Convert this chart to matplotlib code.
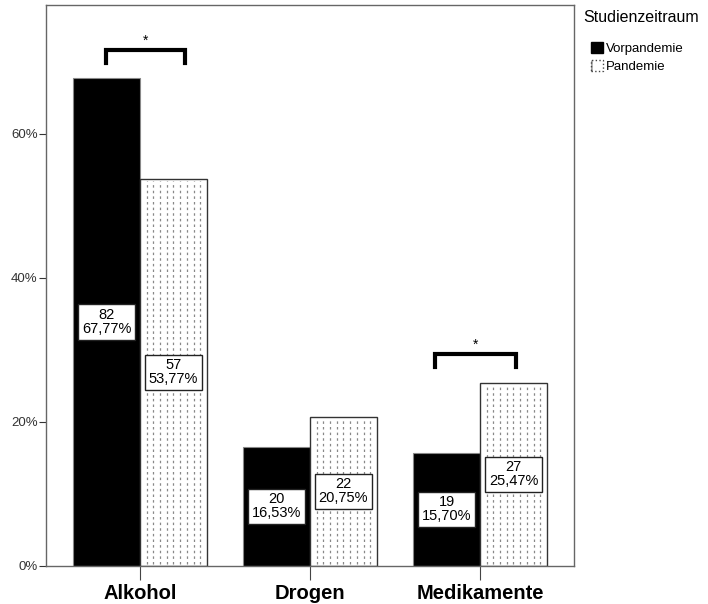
import numpy as np
import matplotlib
matplotlib.use('Agg')
import matplotlib.pyplot as plt
from matplotlib.patches import Patch

plt.rcParams['font.family'] = ['Liberation Sans', 'DejaVu Sans']

categories = ['Alkohol', 'Drogen', 'Medikamente']
groups = ['Vorpandemie', 'Pandemie']
counts_vor = [82, 20, 19]
pct_vor = [67.77, 16.53, 15.70]
counts_pan = [57, 22, 27]
pct_pan = [53.77, 20.75, 25.47]

# significance brackets: category index, left/right offset, bracket height (%)
sig_cat = [0, 2]
sig_left = [-0.20, -0.265]
sig_right = [0.265, 0.212]
sig_y = [71.6, 29.4]

fig = plt.figure(figsize=(7.08, 6.04), dpi=100)
ax = fig.add_axes([46 / 708, 38 / 604, (574 - 46) / 708, (566 - 5) / 604])

x = np.arange(len(categories))
w = 0.394
b1 = ax.bar(x - w / 2, pct_vor, w, color='black', edgecolor='#888888', lw=0.8, zorder=2)
b2 = ax.bar(x + w / 2, pct_pan, w, color='white', edgecolor='#333333', lw=1.0, zorder=2)

# dotted vertical fill pattern for Pandemie bars
for p in b2:
    x0, bw, h = p.get_x(), p.get_width(), p.get_height()
    xs = np.linspace(x0, x0 + bw, 11)[1:-1]
    ax.vlines(xs, 0.3, h - 0.3, colors='#888888', linestyles=(0, (2, 2.5)), lw=0.9, zorder=2.5)

def fmt(n, p):
    return f"{n}\n{p:.2f}%".replace('.', ',')

box = dict(boxstyle='square,pad=0.25', fc='white', ec='#222222', lw=1)
for bars, ns, ps in [(b1, counts_vor, pct_vor), (b2, counts_pan, pct_pan)]:
    for p, n, v in zip(bars, ns, ps):
        ax.text(p.get_x() + p.get_width() / 2, v / 2, fmt(n, v), ha='center', va='center',
                fontsize=10.5, linespacing=1.0, bbox=box, zorder=4)

for c, l, r, y in zip(sig_cat, sig_left, sig_right, sig_y):
    ax.plot([c + l, c + l, c + r, c + r], [y - 1.8, y, y, y - 1.8], color='black', lw=3,
            solid_joinstyle='miter', zorder=3)
    ax.text(c + (l + r) / 2, y + 0.3, '*', ha='center', va='bottom', fontsize=10)

ax.set_xlim(-0.553, 2.553)
ax.set_ylim(0, 77.9)
ax.set_yticks([0, 20, 40, 60])
ax.set_yticklabels(['0%', '20%', '40%', '60%'], fontsize=9.5, color='#333333')
ax.set_xticks(x)
ax.set_xticklabels(categories, fontsize=14.5, fontweight='bold')
ax.tick_params(axis='y', length=5, color='#333333', pad=1)
ax.tick_params(axis='x', length=10, color='#444444', pad=3)
for s in ax.spines.values():
    s.set_color('#666666')
    s.set_linewidth(1)

fig.text(583 / 708, 1 - 18 / 604, 'Studienzeitraum', fontsize=11.5, va='center', ha='left')
handles = [Patch(facecolor='black', edgecolor='black'),
           Patch(facecolor='white', edgecolor='#444444', hatch='|', linestyle=':')]
fig.legend(handles, groups, loc='upper left', bbox_to_anchor=(591 / 708, 1 - 42 / 604),
           frameon=False, fontsize=9.5, handlelength=0.9, handleheight=0.9,
           handletextpad=0.2, labelspacing=0.4, borderpad=0, borderaxespad=0)

fig.savefig('out.png', dpi=100)
